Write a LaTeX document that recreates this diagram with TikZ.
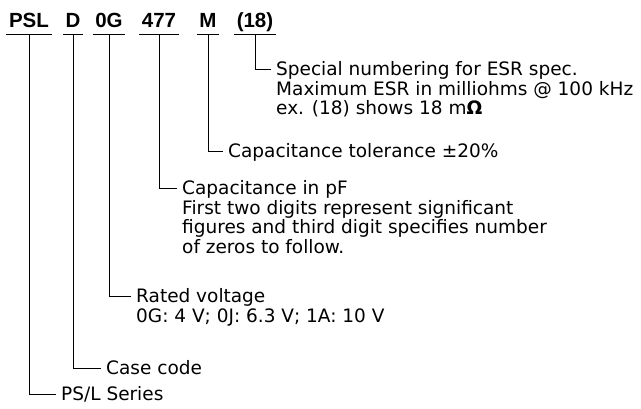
\documentclass[tikz,border=0pt]{standalone}
\usepackage{fontspec}
\setmainfont{DejaVu Sans}
\newfontfamily\codefont{Liberation Sans}
\usepackage{tikz}
\usetikzlibrary{positioning}
\usepackage{xcolor}
\definecolor{CodeBlack}{HTML}{000000}
\definecolor{PaperWhite}{HTML}{ffffff}
\tikzset{
    % Part-number field style
    codenode/.style={
        font=\codefont\fontsize{20.5}{24}\selectfont\bfseries,
        text=CodeBlack,
        anchor=south,
        text depth=0pt,
        inner xsep=2.5pt,
        inner ysep=6.5pt
    },
    % Explanation text style
    descnode/.style={
        font=\fontsize{18.5}{19.5}\selectfont,
        text=CodeBlack,
        anchor=north west,
        align=left,
        inner sep=0pt
    },
    % Underline below each field
    underline/.style={
        line width=1pt,
        draw=CodeBlack
    },
    % Leader line from field to text
    leadline/.style={
        line width=1pt,
        draw=CodeBlack
    }
}

\begin{document}
\begin{tikzpicture}[x=1pt, y=-1pt]
    \useasboundingbox[fill=PaperWhite] (0,0) rectangle (641,408);

    % part-number fields
    \node[codenode] (series) at (29,34) {PSL};
    \node[codenode] (case) at (73,34) {D};
    \node[codenode] (volt) at (109,34) {0G};
    \node[codenode] (capval) at (159,34) {477};
    \node[codenode] (tol) at (208,34) {M};
    \node[codenode] (esr) at (255,34) {(18)};

    \foreach \f in {series,case,volt,capval,tol,esr}
        \draw[underline] (\f.south west) -- (\f.south east);

    % explanations
    \node[descnode] (esrinfo) at (276,61.7) {Special numbering for ESR spec.\\Maximum ESR in milliohms @ 100 kHz\\ex. (18) shows 18 m{\bfseries Ω}};
    \node[descnode] (tolinfo) at (228,143.7) {Capacitance tolerance ±20\%};
    \node[descnode] (capinfo) at (182,180.7) {Capacitance in pF\\First two digits represent significant\\figures and third digit specifies number\\of zeros to follow.};
    \node[descnode] (voltinfo) at (136,288.7) {Rated voltage\\0G: 4 V; 0J: 6.3 V; 1A: 10 V};
    \node[descnode] (caseinfo) at (106,360.7) {Case code};
    \node[descnode] (seriesinfo) at (61,386.7) {PS/L Series};

    % leader lines
    \draw[leadline] (esr.south) |- ([xshift=-5pt,yshift=-7.3pt]esrinfo.north west);
    \draw[leadline] (tol.south) |- ([xshift=-5pt,yshift=-7.3pt]tolinfo.north west);
    \draw[leadline] (capval.south) |- ([xshift=-5pt,yshift=-7.3pt]capinfo.north west);
    \draw[leadline] (volt.south) |- ([xshift=-5pt,yshift=-7.3pt]voltinfo.north west);
    \draw[leadline] (case.south) |- ([xshift=-5pt,yshift=-7.3pt]caseinfo.north west);
    \draw[leadline] (series.south) |- ([xshift=-5pt,yshift=-7.3pt]seriesinfo.north west);
\end{tikzpicture}
\end{document}
